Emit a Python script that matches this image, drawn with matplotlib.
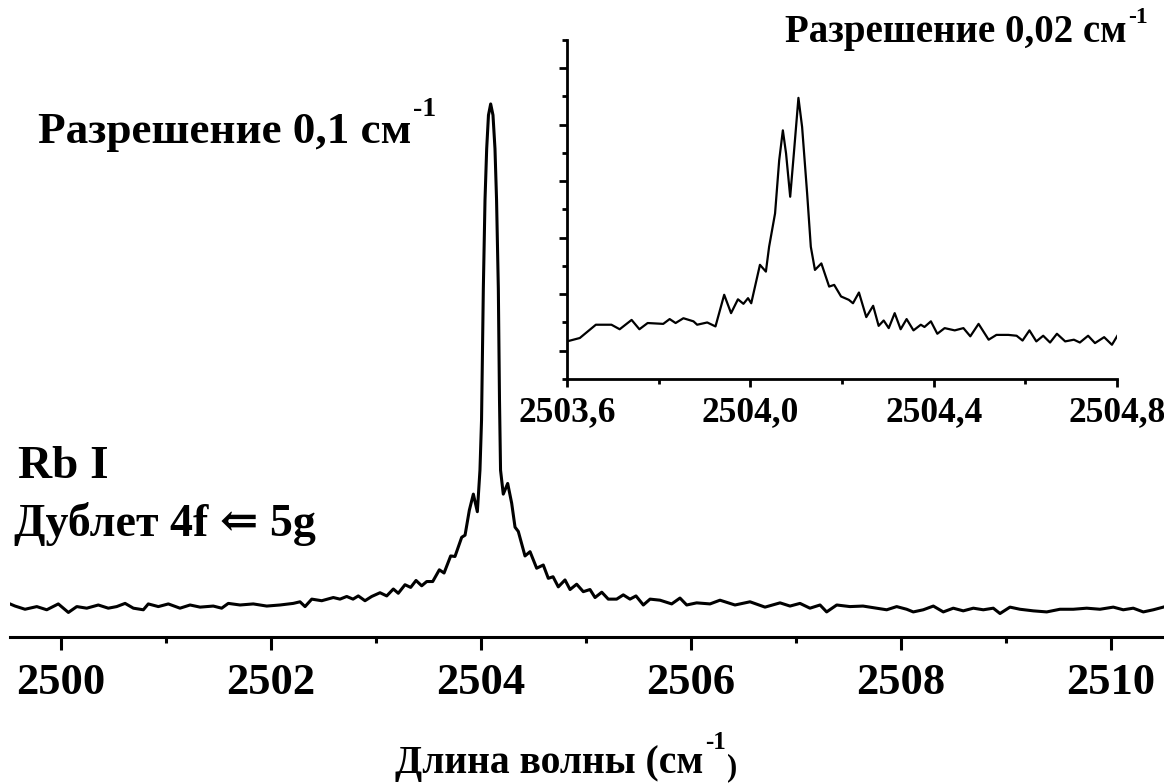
import matplotlib.pyplot as plt
from matplotlib.ticker import FixedLocator, FuncFormatter

plt.rcParams['font.family'] = ['Liberation Serif', 'DejaVu Serif']
plt.rcParams['font.weight'] = 'bold'

# survey spectrum, resolution 0.1 cm-1 (intensity in arb. units)
wn_main = [2499.514, 2499.562, 2499.657, 2499.769, 2499.864, 2499.974, 2500.070, 2500.150,
           2500.245, 2500.355, 2500.450, 2500.530, 2500.610, 2500.689, 2500.784, 2500.831,
           2500.927, 2501.022, 2501.133, 2501.229, 2501.324, 2501.450, 2501.530, 2501.593,
           2501.705, 2501.831, 2501.959, 2502.086, 2502.212, 2502.276, 2502.324, 2502.388,
           2502.483, 2502.593, 2502.657, 2502.721, 2502.781, 2502.831, 2502.895, 2502.959,
           2503.038, 2503.102, 2503.165, 2503.212, 2503.276, 2503.330, 2503.381, 2503.435,
           2503.483, 2503.540, 2503.603, 2503.648, 2503.711, 2503.752, 2503.816, 2503.848,
           2503.889, 2503.927, 2503.965, 2503.990, 2504.005, 2504.022, 2504.038, 2504.054,
           2504.071, 2504.092, 2504.114, 2504.133, 2504.148, 2504.165, 2504.176, 2504.186,
           2504.212, 2504.254, 2504.292, 2504.324, 2504.355, 2504.419, 2504.467, 2504.530,
           2504.593, 2504.641, 2504.686, 2504.736, 2504.800, 2504.848, 2504.911, 2504.974,
           2505.038, 2505.086, 2505.150, 2505.212, 2505.292, 2505.355, 2505.419, 2505.476,
           2505.546, 2505.610, 2505.705, 2505.816, 2505.895, 2505.959, 2506.054, 2506.181,
           2506.276, 2506.419, 2506.562, 2506.705, 2506.848, 2506.943, 2507.038, 2507.133,
           2507.229, 2507.292, 2507.388, 2507.514, 2507.638, 2507.769, 2507.864, 2507.959,
           2508.054, 2508.117, 2508.212, 2508.308, 2508.403, 2508.498, 2508.593, 2508.689,
           2508.784, 2508.879, 2508.943, 2509.038, 2509.133, 2509.260, 2509.388, 2509.514,
           2509.641, 2509.769, 2509.895, 2510.022, 2510.117, 2510.212, 2510.308, 2510.403,
           2510.498]
int_main = [0.062, 0.058, 0.052, 0.057, 0.051, 0.062, 0.046, 0.057,
            0.054, 0.060, 0.054, 0.057, 0.063, 0.054, 0.051, 0.062,
            0.057, 0.062, 0.054, 0.060, 0.056, 0.058, 0.054, 0.063,
            0.060, 0.062, 0.058, 0.060, 0.063, 0.066, 0.057, 0.071,
            0.068, 0.074, 0.071, 0.076, 0.071, 0.077, 0.068, 0.076,
            0.083, 0.077, 0.090, 0.082, 0.098, 0.093, 0.106, 0.096,
            0.104, 0.104, 0.126, 0.120, 0.152, 0.151, 0.187, 0.191,
            0.238, 0.268, 0.235, 0.313, 0.407, 0.653, 0.820, 0.916,
            0.979, 1.000, 0.979, 0.916, 0.820, 0.653, 0.445, 0.313,
            0.268, 0.288, 0.251, 0.206, 0.198, 0.152, 0.160, 0.129,
            0.135, 0.110, 0.113, 0.094, 0.107, 0.089, 0.099, 0.085,
            0.089, 0.074, 0.084, 0.071, 0.071, 0.079, 0.071, 0.077,
            0.060, 0.071, 0.069, 0.062, 0.073, 0.060, 0.064, 0.062,
            0.069, 0.060, 0.066, 0.056, 0.064, 0.058, 0.063, 0.054,
            0.060, 0.047, 0.060, 0.057, 0.058, 0.054, 0.051, 0.057,
            0.052, 0.047, 0.051, 0.058, 0.047, 0.054, 0.049, 0.054,
            0.051, 0.054, 0.044, 0.056, 0.052, 0.049, 0.047, 0.052,
            0.052, 0.054, 0.052, 0.056, 0.051, 0.054, 0.047, 0.051,
            0.056]

# high resolution scan, 0.02 cm-1
wn_hr = [2503.600, 2503.628, 2503.663, 2503.697, 2503.715, 2503.741, 2503.758, 2503.776,
         2503.810, 2503.824, 2503.837, 2503.854, 2503.876, 2503.884, 2503.906, 2503.924,
         2503.943, 2503.958, 2503.973, 2503.985, 2503.995, 2504.002, 2504.021, 2504.034,
         2504.041, 2504.054, 2504.063, 2504.071, 2504.078, 2504.087, 2504.095, 2504.105,
         2504.113, 2504.124, 2504.132, 2504.141, 2504.155, 2504.172, 2504.183, 2504.198,
         2504.215, 2504.224, 2504.237, 2504.253, 2504.268, 2504.280, 2504.291, 2504.302,
         2504.315, 2504.328, 2504.341, 2504.356, 2504.372, 2504.380, 2504.394, 2504.408,
         2504.424, 2504.446, 2504.465, 2504.480, 2504.498, 2504.520, 2504.537, 2504.563,
         2504.581, 2504.594, 2504.609, 2504.624, 2504.639, 2504.654, 2504.669, 2504.687,
         2504.706, 2504.719, 2504.737, 2504.752, 2504.772, 2504.789, 2504.802]
int_hr = [1.33, 1.45, 1.92, 1.92, 1.76, 2.09, 1.76, 1.98,
          1.95, 2.12, 1.98, 2.15, 2.04, 1.92, 2.00, 1.86,
          2.98, 2.33, 2.82, 2.66, 2.86, 2.68, 4.04, 3.80,
          4.68, 5.86, 7.74, 8.80, 7.98, 6.45, 7.98, 9.95,
          8.92, 6.56, 4.68, 3.86, 4.09, 3.27, 3.33, 2.92,
          2.80, 2.68, 3.06, 2.19, 2.59, 1.88, 2.07, 1.80,
          2.33, 1.76, 2.12, 1.72, 1.92, 1.84, 2.04, 1.60,
          1.80, 1.72, 1.80, 1.51, 1.95, 1.39, 1.56, 1.56,
          1.53, 1.36, 1.72, 1.33, 1.53, 1.29, 1.60, 1.33,
          1.39, 1.29, 1.53, 1.27, 1.48, 1.21, 1.56]

main_major = [2500, 2502, 2504, 2506, 2508, 2510]
main_minor = [2501, 2503, 2505, 2507, 2509]
hr_major = [2503.6, 2504.0, 2504.4, 2504.8]
hr_minor = [2503.8, 2504.2, 2504.6]
hr_yticks = [1, 3, 5, 7, 9, 11]
hr_yminor = [0, 2, 4, 6, 8, 10, 12]

fig = plt.figure(figsize=(11.64, 7.83), dpi=100)

ax = fig.add_axes([0.0086, 0.1865, 0.9914, 0.8135])
ax.plot(wn_main, int_main, color='black', lw=2.2)
ax.set_xlim(2499.514, 2510.505)
ax.set_ylim(0, 1.195)
for s in ['left', 'right', 'top']:
    ax.spines[s].set_visible(False)
ax.spines['bottom'].set_linewidth(2.2)
ax.set_yticks([])
ax.xaxis.set_major_locator(FixedLocator(main_major))
ax.xaxis.set_minor_locator(FixedLocator(main_minor))
ax.tick_params(axis='x', which='major', length=9, width=2.2, labelsize=32, pad=10)
ax.tick_params(axis='x', which='minor', length=4.5, width=2.2)

# inset with the resolved doublet
ins = fig.add_axes([0.4871, 0.516, 0.4725, 0.433])
ins.plot(wn_hr, int_hr, color='black', lw=1.6)
ins.set_xlim(2503.6, 2504.8)
ins.set_ylim(0, 12)
ins.patch.set_alpha(0)
for s in ['right', 'top']:
    ins.spines[s].set_visible(False)
for s in ['left', 'bottom']:
    ins.spines[s].set_linewidth(2)
ins.xaxis.set_major_locator(FixedLocator(hr_major))
ins.xaxis.set_minor_locator(FixedLocator(hr_minor))
ins.xaxis.set_major_formatter(FuncFormatter(lambda v, p: f'{v:.1f}'.replace('.', ',')))
ins.yaxis.set_major_locator(FixedLocator(hr_yticks))
ins.yaxis.set_minor_locator(FixedLocator(hr_yminor))
ins.yaxis.set_major_formatter(FuncFormatter(lambda v, p: ''))
ins.tick_params(which='major', length=6, width=2, labelsize=25.5, pad=6)
ins.tick_params(which='minor', length=3.5, width=2)


def sup_text(x, y, label, size, sup='-1', sup_size=20, dy=6):
    t = fig.text(x, y, label, fontsize=size, fontweight='bold', va='baseline')
    s = ax.annotate(sup, xy=(1, 1), xycoords=t, xytext=(1, dy),
                    textcoords='offset points', fontsize=sup_size,
                    fontweight='bold', va='top', ha='left')
    return t, s


sup_text(38 / 1164, 1 - 143 / 783, 'Разрешение 0,1 см', 32.5, dy=11)
sup_text(785 / 1164, 1 - 42 / 783, 'Разрешение 0,02 см', 28, sup_size=17, dy=5)

fig.text(18 / 1164, 1 - 478 / 783, 'Rb I', fontsize=34, fontweight='bold', va='baseline')
fig.text(14 / 1164, 1 - 536 / 783, 'Дублет 4f ⇐ 5g', fontsize=33, fontweight='bold',
         va='baseline')

xl, xs = sup_text(395 / 1164, 1 - 773 / 783, 'Длина волны (см', 28.5, sup_size=18, dy=10)
ax.annotate(')', xy=(1, 0), xycoords=(xs, xl), xytext=(1, 0), textcoords='offset points',
            fontsize=22, fontweight='bold', va='bottom', ha='left')

fig.savefig('out.png', dpi=100)
